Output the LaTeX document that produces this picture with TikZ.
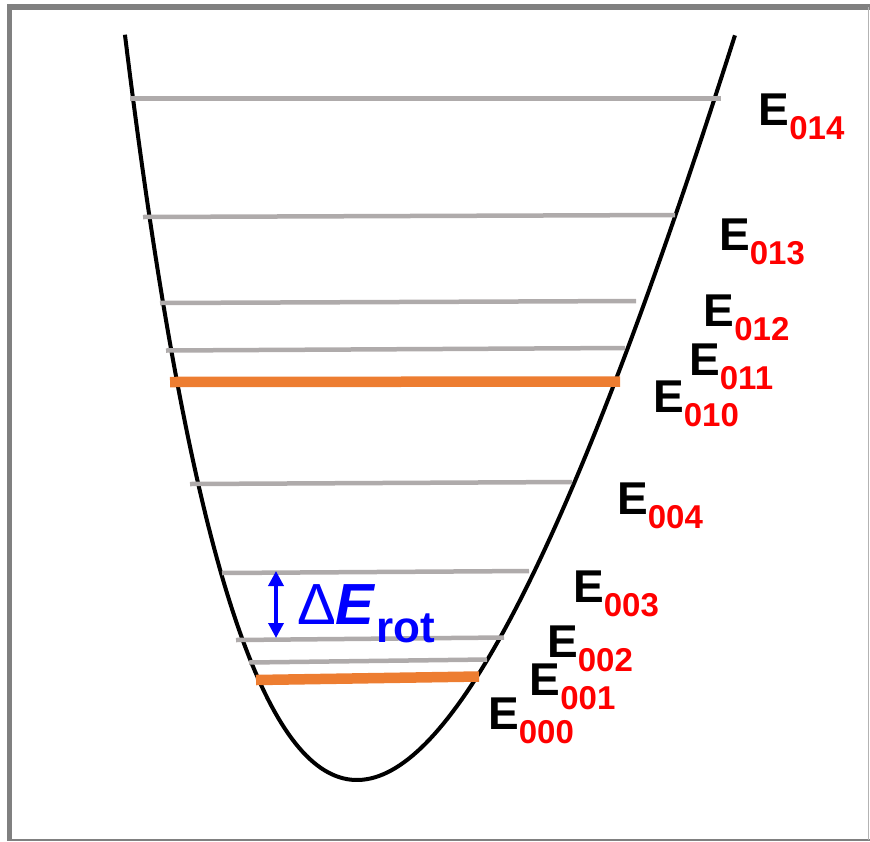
\documentclass[tikz,border=0pt]{standalone}
\usepackage{fontspec}
\setmainfont{Liberation Sans}
\usepackage{xcolor}
\usetikzlibrary{arrows.meta}

\definecolor{lvlgray}{RGB}{175,171,171}
\definecolor{lvlorange}{RGB}{237,125,49}
\definecolor{framegray}{RGB}{128,128,128}
\newcommand{\elab}[1]{{\fontsize{46}{46}\selectfont\bfseries E}\raisebox{-14pt}{\fontsize{33}{33}\selectfont\bfseries\color{red}#1}}

\begin{document}
\begin{tikzpicture}[
    x=1pt, y=-1pt,
    level/.style={draw=lvlgray, line width=4.5pt},
    vib/.style={draw=lvlorange, line width=10.5pt},
    well/.style={draw=black, line width=4pt},
    elabel/.style={anchor=base west, inner sep=0pt},
    arrow/.style={{Triangle[length=15pt,width=15pt]}-{Triangle[length=15pt,width=15pt]}, draw=blue, fill=blue, line width=3.5pt}
]
\useasboundingbox (0,0) rectangle (870,841);
% frame
\draw[framegray, line width=6pt] (7,7) -- (870,7);
\draw[framegray, line width=5pt] (9.5,4) -- (9.5,841);
\draw[framegray, line width=1.5pt] (7,840) -- (870,840);
\draw[framegray!60, line width=1pt] (868.5,7) -- (868.5,840);
% potential well
\draw[well] plot[domain=-2.73:2.73, samples=150] ({357+9.8*\x*\x+107.4*\x+0.585*\x*\x*\x}, {780-100*\x*\x});
% levels
\draw[level] (130,98.5) -- (721,98.5);
\draw[level] (143,217) -- (675,215);
\draw[level] (160,303) -- (636,301);
\draw[level] (166,350.5) -- (625,348);
\draw[vib] (170,382) -- (620,381.5);
\draw[level] (190,484) -- (572,482);
\draw[level] (222,573) -- (529,571);
\draw[level] (236,640) -- (504,637.5);
\draw[level] (249,662.5) -- (487,659.5);
\draw[vib] (256,680) -- (479,676.5);
% rotational spacing
\coordinate (rtop) at (276,571);
\coordinate (rbot) at (276,638);
\draw[arrow] (rtop) -- (rbot);
\node[elabel, text=blue] (drot) at (297,624) {\fontsize{58}{58}\selectfont Δ\textbf{\textit{E}}\raisebox{-18pt}{\fontsize{44}{44}\selectfont\bfseries rot}};
% labels
\node[elabel] (e014) at (758.5,125) {\elab{014}};
\node[elabel] (e013) at (719,250) {\elab{013}};
\node[elabel] (e012) at (703.5,326) {\elab{012}};
\node[elabel] (e011) at (689,375) {\elab{011}};
\node[elabel] (e010) at (653,412) {\elab{010}};
\node[elabel] (e004) at (617,514) {\elab{004}};
\node[elabel] (e003) at (573,602) {\elab{003}};
\node[elabel] (e002) at (547,657) {\elab{002}};
\node[elabel] (e001) at (529.5,695) {\elab{001}};
\node[elabel] (e000) at (488,729) {\elab{000}};
\end{tikzpicture}
\end{document}
